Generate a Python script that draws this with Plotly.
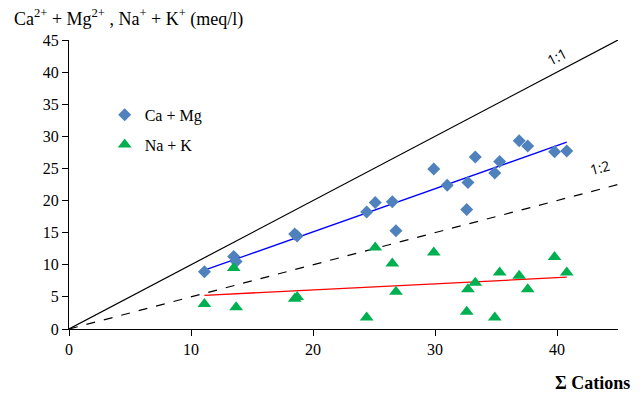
import numpy as np
import plotly.graph_objects as go

# Sum of cations (meq/l)
cations = [11.1, 13.5, 13.7, 18.5, 18.7, 24.4, 25.1, 26.5, 26.8, 29.9, 31.0, 32.7, 32.6,
           33.3, 34.9, 35.3, 36.9, 37.6, 39.8, 40.8]
ca_mg = [8.9, 11.3, 10.5, 14.8, 14.5, 18.2, 19.7, 19.8, 15.3, 24.9, 22.4, 22.8, 18.6,
         26.8, 24.3, 26.1, 29.3, 28.5, 27.6, 27.7]
na_k = [3.9, 9.5, 3.4, 4.7, 5.0, 1.8, 12.7, 10.2, 5.8, 11.9, None, 6.2, 2.7,
        7.2, 1.8, 8.8, 8.3, 6.2, 11.2, 8.8]
ref_x = [0, 45]
ratio_11 = [1.0, 1.0]
ratio_12 = [0.5, 0.5]
x_ticks = [0, 10, 20, 30, 40]
y_ticks = [0, 5, 10, 15, 20, 25, 30, 35, 40, 45]

SERIF = "Liberation Serif"
fig = go.Figure()

# reference lines
fig.add_trace(go.Scatter(x=ref_x, y=[a * b for a, b in zip(ref_x, ratio_11)], mode="lines",
                         line=dict(color="black", width=1.2), showlegend=False, hoverinfo="skip"))
fig.add_trace(go.Scatter(x=ref_x, y=[a * b for a, b in zip(ref_x, ratio_12)], mode="lines",
                         line=dict(color="black", width=1.2, dash="dash"), showlegend=False, hoverinfo="skip"))

# trend lines computed from data
cx = np.array(cations, dtype=float)
cm = np.array(ca_mg, dtype=float)
nk = np.array([np.nan if v is None else v for v in na_k], dtype=float)
xr = np.array([cx.min(), cx.max()])
p1 = np.polyfit(cx, cm, 1)
m = ~np.isnan(nk)
p2 = np.polyfit(cx[m], nk[m], 1)
fig.add_trace(go.Scatter(x=xr, y=np.polyval(p1, xr), mode="lines",
                         line=dict(color="#0000FF", width=1.3), showlegend=False, hoverinfo="skip"))
fig.add_trace(go.Scatter(x=xr, y=np.polyval(p2, xr), mode="lines",
                         line=dict(color="#FF0000", width=1.3), showlegend=False, hoverinfo="skip"))

fig.add_trace(go.Scatter(x=cations, y=ca_mg, mode="markers", name="Ca + Mg", legendgroup="a",
                         marker=dict(symbol="diamond", size=10, color="#4F81BD")))
fig.add_trace(go.Scatter(x=cations, y=na_k, mode="markers", name="Na + K", legendgroup="b",
                         marker=dict(symbol="triangle-up", size=12, color="#00B050")))

fig.update_layout(
    width=644, height=395,
    margin=dict(l=69, r=26, t=40, b=66),
    plot_bgcolor="white", paper_bgcolor="white",
    font=dict(family=SERIF, size=16, color="black"),
    showlegend=True,
    legend=dict(x=0.065, y=0.8, xanchor="left", yanchor="top", bgcolor="rgba(0,0,0,0)",
                font=dict(family=SERIF, size=16), tracegroupgap=6, itemwidth=30),
    xaxis=dict(range=[0, 45], tickvals=x_ticks, showgrid=False, zeroline=False,
               showline=True, linecolor="black", linewidth=1, ticks="outside", ticklen=6,
               tickcolor="black", tickfont=dict(family=SERIF, size=16)),
    yaxis=dict(range=[0, 45], tickvals=y_ticks, showgrid=False, zeroline=False,
               showline=True, linecolor="black", linewidth=1, ticks="outside", ticklen=6,
               tickcolor="black", tickfont=dict(family=SERIF, size=16)),
)

fig.add_annotation(x=-0.104, y=1.075, xref="paper", yref="paper", xanchor="left", yanchor="middle",
                   text="Ca<sup>2+</sup> + Mg<sup>2+</sup> , Na<sup>+</sup> + K<sup>+</sup> (meq/l)",
                   showarrow=False, font=dict(family=SERIF, size=18))
fig.add_annotation(x=1.026, y=-0.187, xref="paper", yref="paper", xanchor="right", yanchor="middle",
                   text="<b>Σ Cations</b>", showarrow=False, font=dict(family=SERIF, size=18))
fig.add_annotation(x=40.0, y=42.4, text="1:1", showarrow=False, textangle=-28,
                   font=dict(family="Open Sans", size=14))
fig.add_annotation(x=43.5, y=25.1, text="1:2", showarrow=False, textangle=-15,
                   font=dict(family="Open Sans", size=14))

fig.write_html("out.html")
